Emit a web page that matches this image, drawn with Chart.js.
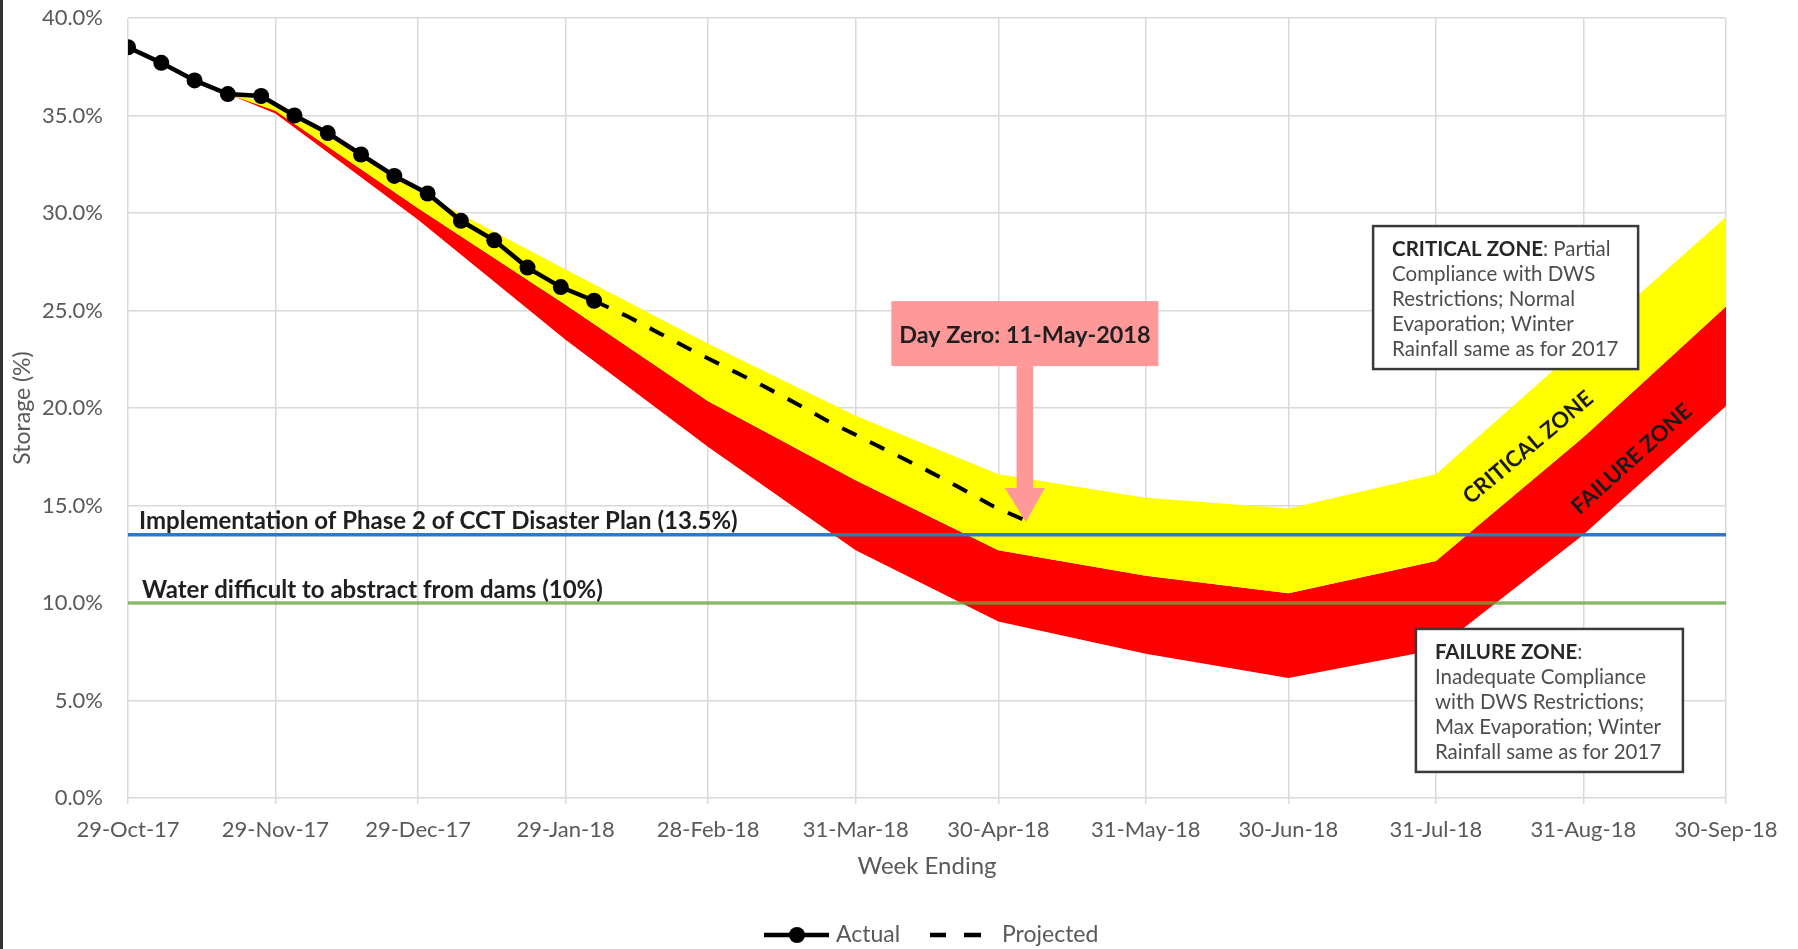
<!DOCTYPE html>
<html>
<head>
<meta charset="utf-8">
<script src="https://cdn.jsdelivr.net/npm/chart.js@4.4.1/dist/chart.umd.min.js"></script>
<style>
html,body{margin:0;padding:0;background:#ffffff;}
#wrap{width:1798px;height:949px;position:relative;overflow:hidden;}
canvas{display:block;}
</style>
</head>
<body>
<div id="wrap"><canvas id="c" width="1798" height="949"></canvas></div>
<script>
// ---- data (days counted from 29-Oct-17) ----
const tickDays = [0, 31, 61, 92, 122, 153, 183, 214, 244, 275, 306, 336];
const tickLabels = ['29-Oct-17','29-Nov-17','29-Dec-17','29-Jan-18','28-Feb-18','31-Mar-18','30-Apr-18','31-May-18','30-Jun-18','31-Jul-18','31-Aug-18','30-Sep-18'];

const actualWeeks  = [0, 1, 2, 3, 4, 5, 6, 7, 8, 9, 10, 11, 12, 13, 14];
const actualValues = [38.5, 37.7, 36.8, 36.1, 36.0, 35.0, 34.1, 33.0, 31.9, 31.0, 29.6, 28.6, 27.2, 26.2, 25.5];

const projectedWeeks  = [14, 15, 16, 17, 18, 19, 20, 21, 22, 23, 24, 25, 26, 27];
const projectedValues = [25.5, 24.7, 23.8, 22.9, 22.05, 21.2, 20.3, 19.35, 18.5, 17.65, 16.8, 15.9, 14.95, 14.2];

const bandDays      = [21, 31, 61, 92, 122, 153, 183, 214, 244, 275, 306, 336];
const criticalUpper = [36.1, 35.6, 31.1, 27.1, 23.3, 19.6, 16.6, 15.4, 14.85, 16.6, 23.3, 29.8];
const criticalLower = [36.1, 35.25, 30.25, 25.3, 20.35, 16.3, 12.7, 11.4, 10.5, 12.15, 18.5, 25.2];
const failureLower  = [36.1, 35.1, 29.65, 23.5, 18.0, 12.7, 9.05, 7.4, 6.15, 7.6, 13.5, 20.1];

const phase2Level = 13.5;
const abstractLevel = 10;
const axisStart = 0, axisEnd = 336;

const seriesNames = ['Actual', 'Projected'];
// -------------------------------------------

const pts = (xs, ys, k) => xs.map((v, i) => ({x: v * k, y: ys[i]}));
const FONT = 'Lato';
const GREY = '#595959';

const annotPlugin = {
  id: 'annot',
  afterDatasetsDraw(chart) {
    const {ctx, chartArea: a, scales: {x, y}} = chart;
    ctx.save();
    // reference line labels
    ctx.fillStyle = '#1f1f1f';
    ctx.font = 'bold 24px ' + FONT;
    ctx.textAlign = 'left';
    ctx.textBaseline = 'alphabetic';
    ctx.fillText('Implementation of Phase 2 of CCT Disaster Plan (13.5%)', a.left + 11, y.getPixelForValue(phase2Level) - 6);
    ctx.fillText('Water difficult to abstract from dams (10%)', a.left + 14, y.getPixelForValue(abstractLevel) - 5.5);

    // Day Zero call-out
    const tx = x.getPixelForValue(projectedWeeks[projectedWeeks.length - 1] * 7);
    const ty = y.getPixelForValue(projectedValues[projectedValues.length - 1]);
    const cx = tx - 2;
    ctx.fillStyle = '#ff9999';
    const bw = 267, bh = 65, btop = ty - 220;
    ctx.fillRect(cx - bw / 2, btop, bw, bh);
    ctx.fillRect(cx - 8.3, btop + bh, 16.6, (ty - 33) - (btop + bh));
    ctx.beginPath();
    ctx.moveTo(cx - 20, ty - 33);
    ctx.lineTo(cx + 20, ty - 33);
    ctx.lineTo(cx + 1, ty + 1);
    ctx.closePath();
    ctx.fill();
    ctx.fillStyle = '#1f1f1f';
    ctx.font = 'bold 23.4px ' + FONT;
    ctx.textAlign = 'center';
    ctx.textBaseline = 'middle';
    ctx.fillText('Day Zero: 11-May-2018', cx, btop + bh / 2 + 2);

    // zone boxes
    const drawBox = (day, pct, w, h, lines) => {
      const left = x.getPixelForValue(day), top = y.getPixelForValue(pct);
      ctx.fillStyle = '#ffffff';
      ctx.fillRect(left, top, w, h);
      ctx.strokeStyle = '#3a3a3a';
      ctx.lineWidth = 2.5;
      ctx.strokeRect(left, top, w, h);
      ctx.textAlign = 'left';
      ctx.textBaseline = 'middle';
      lines.forEach((ln, i) => {
        let xx = left + 19;
        const yy = top + 23 + i * 25.2;
        ln.forEach(seg => {
          ctx.font = (seg.b ? 'bold ' : '') + '20.5px ' + FONT;
          ctx.fillStyle = seg.b ? '#262626' : '#4d4d4d';
          ctx.fillText(seg.t, xx, yy);
          xx += ctx.measureText(seg.t).width;
        });
      });
    };
    drawBox(261.8, 29.33, 265, 143, [
      [{t: 'CRITICAL ZONE', b: true}, {t: ': Partial'}],
      [{t: 'Compliance with DWS'}],
      [{t: 'Restrictions; Normal'}],
      [{t: 'Evaporation; Winter'}],
      [{t: 'Rainfall same as for 2017'}]
    ]);
    drawBox(270.8, 8.67, 267, 143, [
      [{t: 'FAILURE ZONE', b: true}, {t: ':'}],
      [{t: 'Inadequate Compliance'}],
      [{t: 'with DWS Restrictions;'}],
      [{t: 'Max Evaporation; Winter'}],
      [{t: 'Rainfall same as for 2017'}]
    ]);

    // rotated zone labels
    const rot = (txt, day, pct, deg) => {
      ctx.save();
      ctx.translate(x.getPixelForValue(day), y.getPixelForValue(pct));
      ctx.rotate(deg * Math.PI / 180);
      ctx.font = 'bold 22px ' + FONT;
      ctx.fillStyle = '#1a1a1a';
      ctx.textAlign = 'center';
      ctx.textBaseline = 'middle';
      ctx.fillText(txt, 0, 0);
      ctx.restore();
    };
    rot('CRITICAL ZONE', 294.4, 17.97, -40);
    rot('FAILURE ZONE', 316.2, 17.38, -42);
    ctx.restore();
  },
  afterDraw(chart) {
    const {ctx} = chart;
    ctx.save();
    // legend
    const ly = 935;
    ctx.strokeStyle = '#000';
    ctx.lineWidth = 4.5;
    ctx.setLineDash([]);
    ctx.beginPath(); ctx.moveTo(764, ly); ctx.lineTo(829, ly); ctx.stroke();
    ctx.fillStyle = '#000';
    ctx.beginPath(); ctx.arc(797, ly, 8, 0, Math.PI * 2); ctx.fill();
    ctx.beginPath(); ctx.moveTo(930, ly); ctx.lineTo(946, ly); ctx.moveTo(964, ly); ctx.lineTo(981, ly); ctx.stroke();
    ctx.font = '23px ' + FONT;
    ctx.fillStyle = GREY;
    ctx.textAlign = 'left';
    ctx.textBaseline = 'middle';
    ctx.fillText(seriesNames[0], 836, ly);
    ctx.fillText(seriesNames[1], 1002, ly);
    // left frame edge
    ctx.fillStyle = '#333333';
    ctx.fillRect(0, 0, 3, 949);
    ctx.restore();
  }
};

function draw() {
  new Chart(document.getElementById('c'), {
    type: 'line',
    data: {
      datasets: [
        {label: seriesNames[0], data: pts(actualWeeks, actualValues, 7), borderColor: '#000', backgroundColor: '#000',
         borderWidth: 4.5, pointRadius: 8, pointBorderWidth: 0, pointBackgroundColor: '#000', fill: false, tension: 0},
        {label: seriesNames[1], data: pts(projectedWeeks, projectedValues, 7), borderColor: '#000', borderWidth: 4,
         borderDash: [16, 15], pointRadius: 0, fill: false, tension: 0},
        {label: 'Phase 2', data: [{x: axisStart, y: phase2Level}, {x: axisEnd, y: phase2Level}], borderColor: '#2f78c4',
         borderWidth: 3.5, pointRadius: 0, fill: false},
        {label: 'Abstract', data: [{x: axisStart, y: abstractLevel}, {x: axisEnd, y: abstractLevel}], borderColor: 'rgba(104,170,62,0.75)',
         borderWidth: 3.5, pointRadius: 0, fill: false},
        {label: 'Critical upper', data: pts(bandDays, criticalUpper, 1), borderColor: 'rgba(0,0,0,0)', borderWidth: 0,
         pointRadius: 0, fill: '+1', backgroundColor: '#ffff00', tension: 0},
        {label: 'Critical lower', data: pts(bandDays, criticalLower, 1), borderColor: 'rgba(0,0,0,0)', borderWidth: 0,
         pointRadius: 0, fill: '+1', backgroundColor: '#ff0000', tension: 0},
        {label: 'Failure lower', data: pts(bandDays, failureLower, 1), borderColor: 'rgba(0,0,0,0)', borderWidth: 0,
         pointRadius: 0, fill: false, tension: 0}
      ]
    },
    options: {
      responsive: false,
      animation: false,
      devicePixelRatio: 1,
      layout: {autoPadding: false, padding: {left: 0, right: 72, top: 18, bottom: 60}},
      plugins: {legend: {display: false}, tooltip: {enabled: false}, title: {display: false}},
      scales: {
        x: {
          type: 'linear', min: axisStart, max: axisEnd,
          afterBuildTicks: s => { s.ticks = tickDays.map(v => ({value: v})); },
          afterFit: s => { s.height = 91; s.paddingLeft = 0; s.paddingRight = 0; s.paddingTop = 0; s.paddingBottom = 0; },
          ticks: {callback: (v, i) => tickLabels[i], autoSkip: false, maxRotation: 0, padding: 13,
                  font: {family: FONT, size: 22}, color: GREY},
          grid: {color: '#d9d9d9', lineWidth: 1.5, tickLength: 6, drawTicks: true},
          border: {display: false},
          title: {display: true, text: 'Week Ending', font: {family: FONT, size: 24}, color: GREY,
                  padding: {top: 0, bottom: 8.6}}
        },
        y: {
          min: 0, max: 40,
          afterFit: s => { s.width = 128; s.paddingTop = 0; s.paddingBottom = 0; s.paddingLeft = 0; s.paddingRight = 0; },
          ticks: {stepSize: 5, callback: v => v.toFixed(1) + '%', padding: 25,
                  font: {family: FONT, size: 22}, color: GREY},
          grid: {color: '#d9d9d9', lineWidth: 1.5, drawTicks: false},
          border: {display: false},
          title: {display: true, text: 'Storage (%)', font: {family: FONT, size: 23}, color: GREY,
                  padding: {top: 9, bottom: 0}}
        }
      }
    },
    plugins: [annotPlugin]
  });
}

if (document.fonts && document.fonts.load) {
  Promise.all([document.fonts.load('22px Lato'), document.fonts.load('bold 22px Lato')]).then(draw, draw);
} else {
  draw();
}
</script>
</body>
</html>
